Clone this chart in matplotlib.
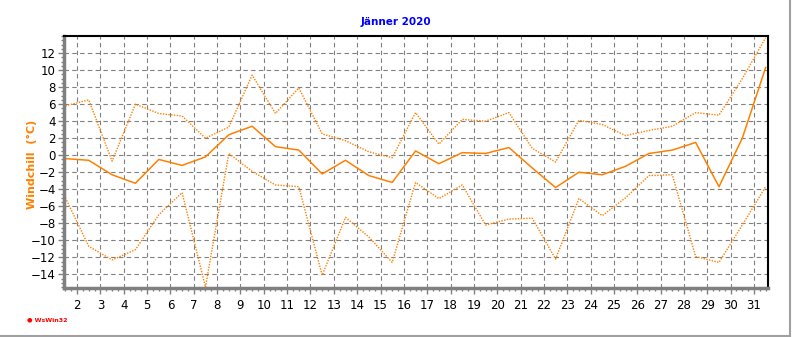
import matplotlib
matplotlib.use('Agg')
import matplotlib.pyplot as plt
from matplotlib.lines import Line2D
from matplotlib.ticker import MultipleLocator

# Tageswerte Jänner 2020 (Windchill in °C)
days = list(range(1, 32))
wc_max = [5.8, 6.5, -0.7, 6.0, 4.9, 4.6, 2.0, 3.3, 9.4, 4.9, 7.9, 2.5, 1.7, 0.4, -0.3,
          5.0, 1.3, 4.2, 4.0, 5.0, 0.8, -0.8, 4.1, 3.6, 2.3, 2.9, 3.4, 5.0, 4.7, 9.0, 13.8]
wc_mean = [-0.4, -0.6, -2.3, -3.3, -0.5, -1.2, -0.2, 2.4, 3.4, 1.0, 0.6, -2.2, -0.6, -2.4, -3.2,
           0.5, -1.0, 0.3, 0.2, 0.9, -1.5, -3.8, -2.0, -2.3, -1.3, 0.2, 0.6, 1.5, -3.7, 2.0, 10.3]
wc_min = [-5.0, -10.7, -12.3, -11.1, -7.0, -4.4, -15.5, 0.2, -1.9, -3.5, -3.7, -14.1, -7.3, -9.6, -12.6,
          -3.2, -5.1, -3.5, -8.2, -7.5, -7.4, -12.2, -5.1, -7.1, -5.0, -2.4, -2.3, -11.9, -12.6, -8.2, -3.7]
x_ticks = list(range(2, 32))
y_ticks = list(range(-14, 13, 2))

orange = '#FF8000'
grey = '#808080'

fig = plt.figure(figsize=(7.92, 3.37), dpi=100)
ax = fig.add_axes([64 / 792, 1 - 288 / 337, 704 / 792, 252 / 337])

# Werte werden in der Tagesmitte gezeichnet
xs = [d + 0.5 for d in days]
ax.plot(xs, wc_max, color=orange, lw=1, linestyle=(0, (1, 1)))
ax.plot(xs, wc_mean, color=orange, lw=1.1)
ax.plot(xs, wc_min, color=orange, lw=1, linestyle=(0, (1, 1)))

ax.set_xlim(1.44, 31.6)
ax.set_ylim(-15.6, 14.0)
ax.set_xticks(x_ticks)
ax.set_yticks(y_ticks)
ax.xaxis.set_minor_locator(MultipleLocator(0.25))
ax.yaxis.set_minor_locator(MultipleLocator(0.5))
ax.grid(True, which='major', color=grey, linestyle=(0, (4, 3)), lw=0.8)
ax.tick_params(which='major', direction='out', length=4, width=1, color=grey,
               labelsize=8.5, pad=2)
ax.tick_params(which='minor', direction='out', length=2, width=1, color=grey)
ax.tick_params(axis='x', pad=4)

for side in ['left', 'bottom']:
    ax.spines[side].set_color(grey)
    ax.spines[side].set_linewidth(2.5)
for side in ['top', 'right']:
    ax.spines[side].set_color('black')
    ax.spines[side].set_linewidth(1.5)

fig.text(0.5, 1 - 22 / 337, 'Jänner 2020', ha='center', va='center',
         fontsize=7.5, fontweight='bold', color='#0000FF')
fig.text(32 / 792, 1 - 164 / 337, 'Windchill  (°C)', ha='center', va='center',
         rotation=90, fontsize=8, fontweight='bold', color=orange)
fig.text(27 / 792, 1 - 320 / 337, '● WsWin32', ha='left', va='center',
         fontsize=4.5, fontweight='bold', color='red')

# Rahmen rechts und unten
fig.add_artist(Line2D([789.5 / 792, 789.5 / 792], [0, 1], transform=fig.transFigure,
                      color='#A0A0A0', lw=1.5))
fig.add_artist(Line2D([0, 789.5 / 792], [0.8 / 337, 0.8 / 337], transform=fig.transFigure,
                      color='#A0A0A0', lw=1.5))

plt.savefig('out.png', dpi=100)
plt.close()
